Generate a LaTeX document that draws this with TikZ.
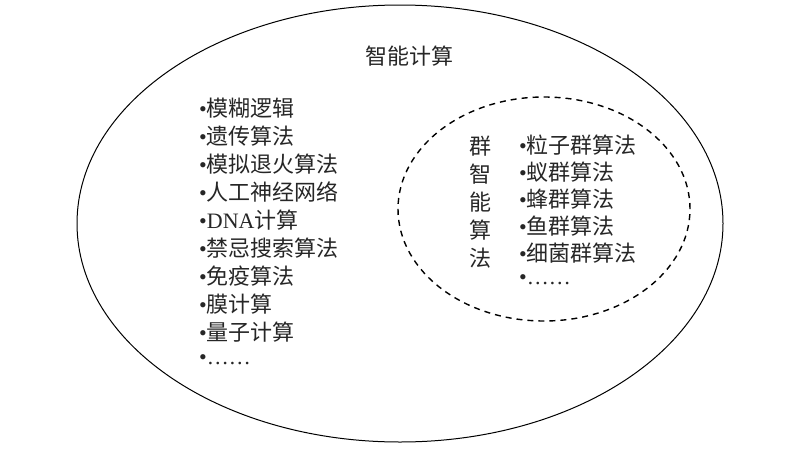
\documentclass[tikz,border=0pt]{standalone}
\usepackage{fontspec}
\setmainfont{Liberation Serif}
\newfontfamily\cjk{Noto Sans CJK SC}
\usetikzlibrary{shapes.geometric,positioning}

\begin{document}
\begin{tikzpicture}[
x=1pt, y=-1pt,
font=\fontsize{22}{26}\selectfont,
item/.style={anchor=west,inner sep=0pt,text=black!85},
outer/.style={draw,ellipse,line width=1pt,inner sep=0pt},
inner/.style={draw,ellipse,dash pattern=on 6pt off 5pt,line width=1.4pt,inner sep=0pt}
]
    \useasboundingbox (0,0) rectangle (800,450);

    % Ellipses
    \node[outer,minimum width=646pt,minimum height=437pt] (ai) at (400,223.5) {};
    \node[inner,minimum width=292pt,minimum height=224pt] (swarm) at (544,209) {};

    % Titles
    \node[item,anchor=center] (title) at (409,56) {\cjk 智能计算};
    \node[item,anchor=center,align=center,font=\fontsize{22}{28}\selectfont] (swtitle) at (480,202)
        {\cjk 群\\\cjk 智\\\cjk 能\\\cjk 算\\\cjk 法};

    % Left list
    \foreach \t [count=\i] in {模糊逻辑,遗传算法,模拟退火算法,人工神经网络,{\rmfamily DNA}计算,禁忌搜索算法,免疫算法,膜计算,量子计算}
        \node[item] (l\i) at (199,{108+28*(\i-1)}) {\textbullet{\cjk \t}};
    \node[item] (l10) at (199,360) {\textbullet……};

    % Right list
    \foreach \t [count=\i] in {粒子群算法,蚁群算法,蜂群算法,鱼群算法,细菌群算法}
        \node[item] (r\i) at (519,{145+27*(\i-1)}) {\textbullet{\cjk \t}};
    \node[item] (r6) at (519,{145+27*5}) {\textbullet……};
\end{tikzpicture}
\end{document}
